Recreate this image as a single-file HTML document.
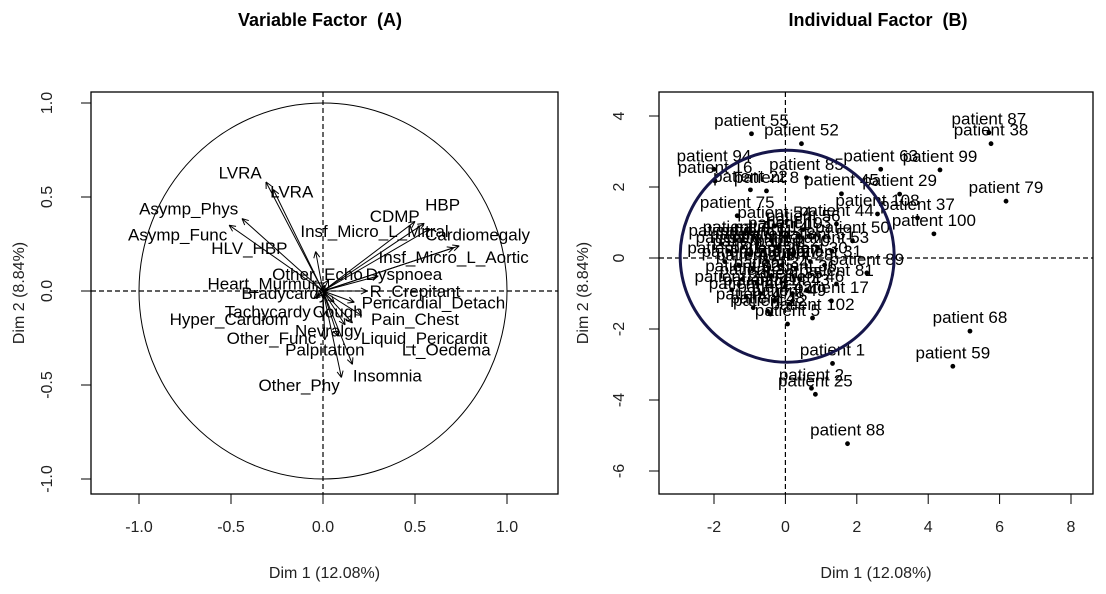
<!DOCTYPE html>
<html><head><meta charset="utf-8">
<style>
body{margin:0;background:#fff;}
svg{display:block;font-family:"Liberation Sans",Arial,sans-serif;}
</style></head>
<body>
<svg id="chart" width="1106" height="594" viewBox="0 0 1106 594">
<text x="320" y="26" font-size="18" font-weight="bold" text-anchor="middle">Variable Factor &#160;(A)</text>
<text x="878" y="26" font-size="18" font-weight="bold" text-anchor="middle">Individual Factor &#160;(B)</text>
<g id="pa"></g>
<g id="pb"></g>
</svg>
<script>
// Panel A data
const varNames=["LVRA","LVRA","Asymp_Phys","Asymp_Func","HLV_HBP","HBP","CDMP","Insf_Micro_L_Mitral","Cardiomegaly","Insf_Micro_L_Aortic","Dyspnoea","Other_Echo","Heart_Murmur","R_Crepitant","Bradycardy","Pericardial_Detach","Tachycardy","Cough","Hyper_Cardiom","Pain_Chest","Nevralgy","Other_Func","Liquid_Pericardit","Palpitation","Lt_Oedema","Insomnia","Other_Phy"];
const varX=[-0.31,-0.27,-0.44,-0.51,-0.04,0.55,0.50,0.58,0.74,0.71,0.30,0.03,0.01,0.24,-0.01,0.17,-0.03,0.06,-0.05,0.21,0.0,0.01,0.12,0.08,0.16,0.16,0.10];
const varY=[0.58,0.54,0.385,0.35,0.21,0.36,0.37,0.33,0.24,0.23,0.08,0.06,0.03,0.0,0.005,-0.06,-0.03,-0.06,-0.04,-0.13,-0.14,-0.26,-0.18,-0.24,-0.17,-0.39,-0.46];
const labX=[-0.45,-0.17,-0.73,-0.79,-0.40,0.65,0.39,0.28,0.84,0.71,0.44,-0.03,-0.33,0.50,-0.21,0.60,-0.30,0.08,-0.51,0.50,0.03,-0.28,0.55,0.01,0.67,0.35,-0.13];
const labY=[0.63,0.53,0.44,0.30,0.23,0.46,0.40,0.32,0.30,0.18,0.09,0.09,0.04,0.0,-0.01,-0.06,-0.11,-0.11,-0.15,-0.15,-0.21,-0.25,-0.25,-0.31,-0.31,-0.45,-0.50];
const aXTicks=[-1.0,-0.5,0.0,0.5,1.0];
const aYTicks=[-1.0,-0.5,0.0,0.5,1.0];
// Panel B data
const patNames=["patient 55","patient 52","patient 87","patient 38","patient 94","patient 16","patient 22","patient 8","patient 85","patient 63","patient 99","patient 45","patient 29","patient 79","patient 75","patient 108","patient 44","patient 37","patient 100","patient 50","patient 3","patient 89","patient 81","patient 17","patient 102","patient 5","patient 12","patient 68","patient 59","patient 1","patient 2","patient 25","patient 88",
"patient 4","patient 6","patient 7","patient 9","patient 10","patient 11","patient 13","patient 14","patient 18","patient 19","patient 20","patient 21","patient 23","patient 24","patient 26","patient 27","patient 28","patient 30","patient 31","patient 32","patient 33","patient 34","patient 35","patient 36","patient 39","patient 40","patient 41","patient 42","patient 43","patient 46","patient 47","patient 48","patient 49","patient 51","patient 53","patient 54","patient 56"];
const patX=[-0.95,0.45,5.7,5.76,-2.0,-1.97,-0.98,-0.53,0.59,2.67,4.33,1.57,3.2,6.18,-1.35,2.58,1.43,3.7,4.16,1.88,0.37,2.28,1.43,1.29,0.76,0.06,-0.42,5.17,4.69,1.32,0.73,0.84,1.74,
-1.8,-1.6,-1.4,-1.2,-1.0,-0.8,-0.6,-0.4,-0.2,0.0,0.2,-1.7,-1.3,-0.9,-0.5,-0.1,0.3,0.7,1.1,-1.2,-0.8,-0.4,0.0,0.4,-1.5,-1.1,-0.7,-0.3,0.2,0.6,-0.9,-0.5,0.1,0.9,1.3,-0.3,0.5];
const patY=[3.5,3.22,3.53,3.22,2.5,2.17,1.92,1.89,2.26,2.5,2.48,1.81,1.8,1.6,1.19,1.24,0.96,1.13,0.68,0.48,0.62,-0.42,-0.73,-1.21,-1.69,-1.86,-1.58,-2.06,-3.05,-2.97,-3.67,-3.84,-5.23,
0.4,0.2,0.5,0.3,0.1,0.4,0.2,0.5,0.3,0.6,0.1,-0.1,-0.2,-0.3,-0.1,-0.2,-0.3,-0.1,-0.2,-0.6,-0.7,-0.5,-0.8,-0.6,-0.9,-1.1,-1.0,-1.2,-1.0,-0.9,-1.4,-1.5,-1.3,0.3,0.2,0.9,0.8];
const bXTicks=[-2,0,2,4,6,8];
const bYTicks=[-6,-4,-2,0,2,4];

const NS="http://www.w3.org/2000/svg";
function mk(parent,tag,attrs,txt){const e=document.createElementNS(NS,tag);for(const k in attrs)e.setAttribute(k,attrs[k]);if(txt!==undefined)e.textContent=txt;parent.appendChild(e);return e;}

const A={l:91,r:558,t:92,b:494,x0:323,sx:184,y0:291,sy:188};
const ax=v=>A.x0+v*A.sx, ay=v=>A.y0-v*A.sy;
const pa=document.getElementById('pa');
function frame(g,P,X,Y,xt,yt,fmt,ylabX,dimX){
  const box=mk(g,'rect',{x:P.l,y:P.t,width:P.r-P.l,height:P.b-P.t,fill:'none',stroke:'#000','stroke-width':1.3});
  
  
  xt.forEach(v=>{mk(g,'line',{x1:X(v),x2:X(v),y1:P.b,y2:P.b+10,stroke:'#000'});
    const t=mk(g,'text',{x:X(v),y:P.b+38,'font-size':16,'text-anchor':'middle',fill:'#222'},fmt(v));
    
    });
  yt.forEach(v=>{mk(g,'line',{x1:P.l-10,x2:P.l,y1:Y(v),y2:Y(v),stroke:'#000'});
    const t=mk(g,'text',{x:ylabX,y:Y(v),'font-size':16,'text-anchor':'middle',fill:'#222',transform:`rotate(-90 ${ylabX} ${Y(v)})`},fmt(v));
    
    });
  mk(g,'line',{x1:P.l,x2:P.r,y1:Y(0),y2:Y(0),stroke:'#000','stroke-dasharray':'5,3','stroke-width':1.2});
  mk(g,'line',{x1:X(0),x2:X(0),y1:P.t,y2:P.b,stroke:'#000','stroke-dasharray':'5,3','stroke-width':1.2});
  const xl=mk(g,'text',{x:(P.l+P.r)/2,y:578,'font-size':16,'text-anchor':'middle',fill:'#222'},'Dim 1 (12.08%)');
  
  
  const yc=(P.t+P.b)/2;
  const yl=mk(g,'text',{x:dimX,y:yc,'font-size':16,'text-anchor':'middle',fill:'#222',transform:`rotate(-90 ${dimX} ${yc})`},'Dim 2 (8.84%)');
  
  
}
frame(pa,A,ax,ay,aXTicks,aYTicks,v=>v.toFixed(1),52,24);
const circA=mk(pa,'ellipse',{cx:ax(0),cy:ay(0),rx:A.sx,ry:A.sy,fill:'none',stroke:'#000','stroke-width':1});


varNames.forEach((n,i)=>{
  const x1=ax(0),y1=ay(0),x2=ax(varX[i]),y2=ay(varY[i]);
  const ln=mk(pa,'line',{x1,y1,x2,y2,stroke:'#000','stroke-width':1});
  
  
  const ang=Math.atan2(y2-y1,x2-x1),h=7;
  [0.45,-0.45].forEach(d=>mk(pa,'line',{x1:x2,y1:y2,x2:x2-h*Math.cos(ang+d),y2:y2-h*Math.sin(ang+d),stroke:'#000'}));
  const t=mk(pa,'text',{x:ax(labX[i]),y:ay(labY[i])+6,'font-size':17,'text-anchor':'middle',fill:'#000'},n);
  
  
});

const B={l:659,r:1093,t:92,b:494,x0:785.4,sx:35.7,y0:258,sy:35.5};
const bx=v=>B.x0+v*B.sx, by=v=>B.y0-v*B.sy;
const pb=document.getElementById('pb');
frame(pb,B,bx,by,bXTicks,bYTicks,v=>String(v),624,588);
patNames.forEach((n,i)=>{
  const c=mk(pb,'circle',{cx:bx(patX[i]),cy:by(patY[i]),r:2.4,fill:'#000'});
  
  
  const t=mk(pb,'text',{x:bx(patX[i]),y:by(patY[i])-8,'font-size':17,'text-anchor':'middle',fill:'#000'},n);
  
  
});
const circB=mk(pb,'ellipse',{cx:bx(0.05),cy:by(0.05),rx:107,ry:106,fill:'none',stroke:'#16164a','stroke-width':3});


</script>
</body></html>
